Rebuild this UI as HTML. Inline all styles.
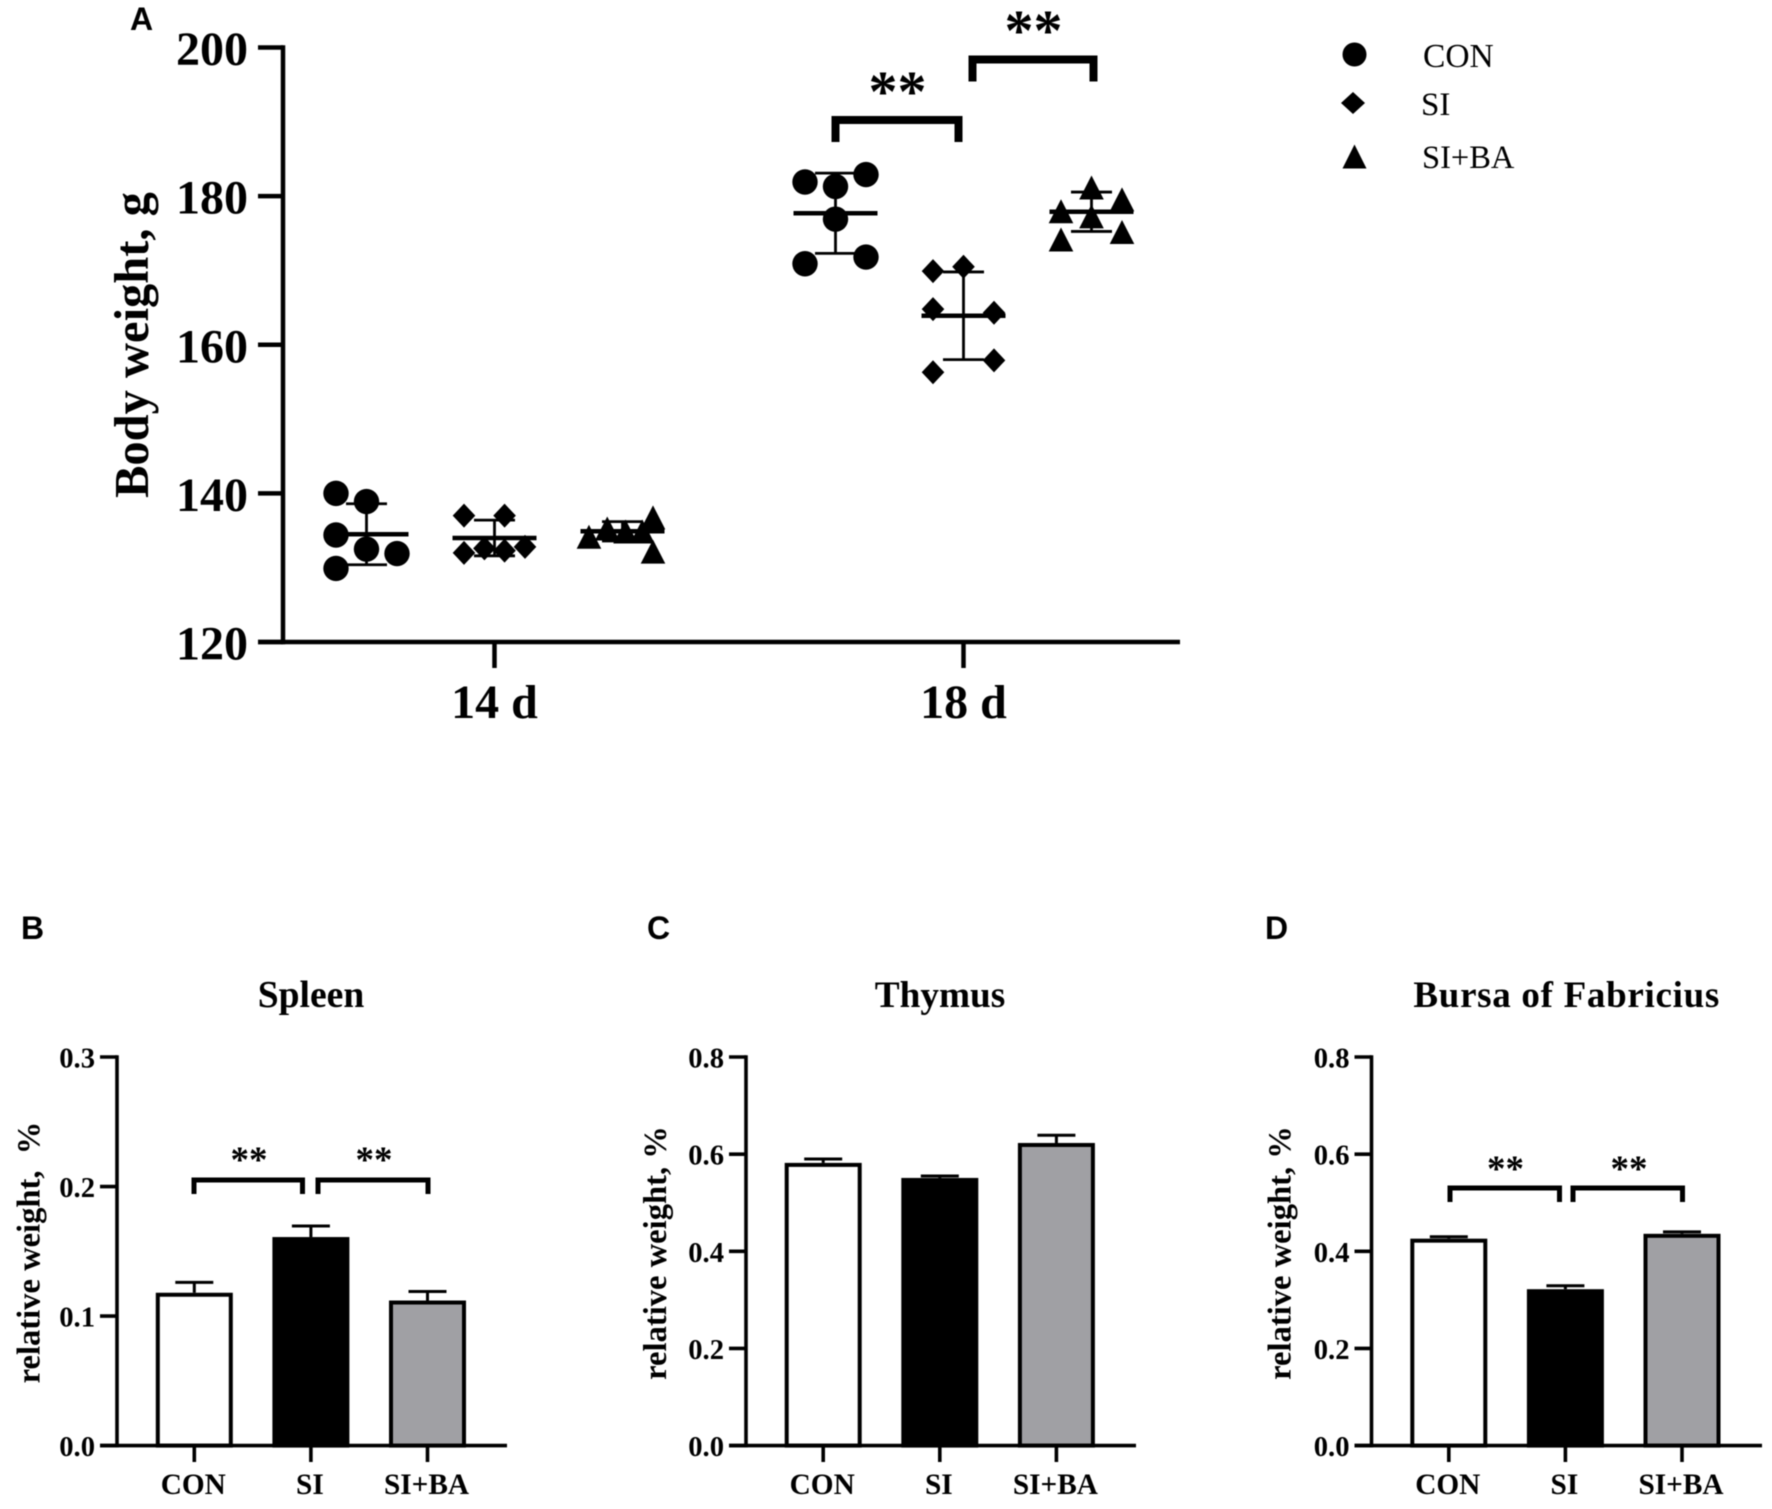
<!DOCTYPE html>
<html lang="en">
<head>
<meta charset="utf-8">
<title>Body weight and relative organ weight</title>
<style>
  html, body { margin: 0; padding: 0; background: #fff; }
  svg { display: block; filter: blur(0.6px); }
  text { font-family: "Liberation Serif", serif; fill: #000; }
  .bold { font-weight: 700; }
  .letter { font-family: "Liberation Sans", sans-serif; font-weight: 700; font-size: 32px; }
  .bracket { fill: none; stroke: #000; }
</style>
</head>
<body>
<svg id="figure" xmlns="http://www.w3.org/2000/svg" width="1772" height="1509" viewBox="0 0 1772 1509">
  <rect x="0" y="0" width="1772" height="1509" fill="#fff"/>

  <text class="letter" x="130" y="30">A</text>
  <text class="letter" x="21" y="939">B</text>
  <text class="letter" x="647" y="939">C</text>
  <text class="letter" x="1265" y="939">D</text>

  <g>
    <path class="bracket" stroke-width="8" d="M835.5 142V120H958.5V142"/>
    <path class="bracket" stroke-width="8" d="M972.5 81.5V59.5H1093.5V81.5"/>
    <text class="bold" x="897.5" y="111" font-size="58" text-anchor="middle">**</text>
    <text class="bold" x="1033.5" y="50" font-size="58" text-anchor="middle">**</text>
  </g>

  <g>
    <circle cx="1354.5" cy="54.5" r="12"/>
    <polygon points="1353,92 1365,103 1353,114 1341,103"/>
    <polygon points="1354.5,144.5 1366.5,168.5 1342.5,168.5"/>
    <text x="1423" y="67" font-size="33.5">CON</text>
    <text x="1421" y="115" font-size="33">SI</text>
    <text x="1422" y="168" font-size="32.5">SI+BA</text>
  </g>

  <g>
    <path class="bracket" stroke-width="5" d="M194 1194V1180H302.5V1194"/>
    <path class="bracket" stroke-width="5" d="M318 1194V1180H428V1194"/>
    <text class="bold" x="249" y="1172" font-size="37" text-anchor="middle">**</text>
    <text class="bold" x="374" y="1172" font-size="37" text-anchor="middle">**</text>
  </g>
  <g>
    <path class="bracket" stroke-width="5" d="M1450 1202V1188H1559.5V1202"/>
    <path class="bracket" stroke-width="5" d="M1573 1202V1188H1682.5V1202"/>
    <text class="bold" x="1505.5" y="1181" font-size="37" text-anchor="middle">**</text>
    <text class="bold" x="1629" y="1181" font-size="37" text-anchor="middle">**</text>
  </g>
</svg>

<script>
// ---- Panel A data ----
const weightDays = ['14 d', '18 d'];
const weightTicks = [120, 140, 160, 180, 200];
const con14 = [140.0, 138.9, 134.4, 132.5, 131.9, 129.9];
const si14 = [137.0, 137.0, 132.0, 132.6, 132.3, 132.8];
const siba14 = [134.1, 135.2, 134.8, 134.8, 136.7, 132.1];
const con18 = [181.9, 182.9, 181.3, 176.9, 170.9, 171.8];
const si18 = [169.9, 170.5, 164.8, 164.3, 157.9, 156.3];
const siba18 = [181.1, 179.5, 177.9, 177.2, 175.1, 174.1];
// swarm column of every point, in units of one swarm column
const con14Columns = [-1, 0, -1, 0, 1, -1];
const si14Columns = [-1, 0.33, -1, -0.33, 0.33, 1];
const siba14Columns = [-1.1, -0.5, 0.1, 0.65, 1, 1];
const con18Columns = [-1, 1, 0, 0, -1, 1];
const si18Columns = [-1, 0, -1, 1, 1, -1];
const siba18Columns = [0, 1, -1, 0, 1, -1];
const weightMeans14 = [134.5, 134.0, 134.9];
const weightMeans18 = [177.7, 163.9, 177.9];
const weightSD14 = [4.1, 2.4, 1.3];
const weightSD18 = [5.4, 5.9, 2.65];

// ---- Panels B-D data ----
const organGroups = ['CON', 'SI', 'SI+BA'];
const spleenTicks = [0.0, 0.1, 0.2, 0.3];
const thymusTicks = [0.0, 0.2, 0.4, 0.6, 0.8];
const bursaTicks = [0.0, 0.2, 0.4, 0.6, 0.8];
const spleenValues = [0.118, 0.161, 0.112];
const spleenErrors = [0.008, 0.0085, 0.007];
const thymusValues = [0.582, 0.551, 0.623];
const thymusErrors = [0.008, 0.004, 0.016];
const bursaValues = [0.426, 0.322, 0.436];
const bursaErrors = [0.004, 0.007, 0.004];

const svg = document.getElementById('figure');
const NS = 'http://www.w3.org/2000/svg';

function make(tag, attrs, parent, content) {
  const el = document.createElementNS(NS, tag);
  for (const k in attrs) el.setAttribute(k, attrs[k]);
  if (content !== undefined) el.textContent = content;
  (parent || svg).appendChild(el);
  return el;
}
function slug(s) {
  return String(s).toLowerCase().replace(/[^a-z0-9.]+/g, '-');
}
function line(parent, x1, y1, x2, y2, w, name) {
  const el = make('line', { x1: x1, y1: y1, x2: x2, y2: y2, stroke: '#000', 'stroke-width': w }, parent);
  
  
  return el;
}
function linearScale(d0, d1, r0, r1) {
  return function (v) { return r0 + (v - d0) * (r1 - r0) / (d1 - d0); };
}

// ---- Panel A ----
const weightY = linearScale(120, 200, 642, 47.5);
const dayX = function (i) { return 494.5 + i * 469; };
const groupOffset = function (g) { return (g - 1) * 128; };
const COLUMN_WIDTH = 30.5;

const panelA = make('g', {});



function drawMarker(parent, shape, cx, cy, name) {
  let el;
  if (shape === 'circle') {
    el = make('circle', { cx: cx, cy: cy, r: 12.7 }, parent);
  } else if (shape === 'diamond') {
    el = make('polygon', { points: [cx, cy - 12, cx + 11.3, cy, cx, cy + 12, cx - 11.3, cy].join(' ') }, parent);
  } else {
    el = make('polygon', { points: [cx, cy - 12.5, cx + 12.3, cy + 11.5, cx - 12.3, cy + 11.5].join(' ') }, parent);
  }
  
  
  return el;
}

function drawGroup(dayIndex, groupIndex, values, columns, mean, sd, shape) {
  const cx = dayX(dayIndex) + groupOffset(groupIndex);
  const groupName = slug(organGroups[groupIndex]) + '-' + slug(weightDays[dayIndex]);
  const g = make('g', {}, panelA);
  
  
  values.forEach(function (v, i) {
    drawMarker(g, shape, cx + columns[i] * COLUMN_WIDTH, weightY(v), 'point-' + groupName);
  });
  line(g, cx - 42, weightY(mean), cx + 42, weightY(mean), 4.5, 'mean-line-' + groupName);
  line(g, cx, weightY(mean + sd), cx, weightY(mean - sd), 2.8, 'sd-whisker-' + groupName);
  line(g, cx - 20.5, weightY(mean + sd), cx + 20.5, weightY(mean + sd), 2.8, 'sd-cap-upper-' + groupName);
  line(g, cx - 20.5, weightY(mean - sd), cx + 20.5, weightY(mean - sd), 2.8, 'sd-cap-lower-' + groupName);
}

drawGroup(0, 0, con14, con14Columns, weightMeans14[0], weightSD14[0], 'circle');
drawGroup(0, 1, si14, si14Columns, weightMeans14[1], weightSD14[1], 'diamond');
drawGroup(0, 2, siba14, siba14Columns, weightMeans14[2], weightSD14[2], 'triangle');
drawGroup(1, 0, con18, con18Columns, weightMeans18[0], weightSD18[0], 'circle');
drawGroup(1, 1, si18, si18Columns, weightMeans18[1], weightSD18[1], 'diamond');
drawGroup(1, 2, siba18, siba18Columns, weightMeans18[2], weightSD18[2], 'triangle');

line(panelA, 283, weightY(200) - 2.2, 283, weightY(120) + 2.2, 4.5, 'y-axis-line');
line(panelA, 258, weightY(120), 1180, weightY(120), 4.5, 'x-axis-line');
weightTicks.forEach(function (t) {
  line(panelA, 258, weightY(t), 283, weightY(t), 4.5, 'y-tick-' + t);
  const label = make('text', { x: 248, y: weightY(t) + 17.5, 'font-size': 48, 'text-anchor': 'end', class: 'bold' }, panelA, t);
  
  
});
weightDays.forEach(function (d, i) {
  line(panelA, dayX(i), 642, dayX(i), 668, 4.5, 'x-tick-' + slug(d));
  const label = make('text', { x: dayX(i), y: 718, 'font-size': 48, 'text-anchor': 'middle', class: 'bold' }, panelA, d);
  
  
});
const weightTitle = make('text', {
  transform: 'translate(148 345) rotate(-90)', 'font-size': 48.5, 'text-anchor': 'middle', class: 'bold'
}, panelA, 'Body weight, g');



// ---- Panels B-D ----
const barFills = ['#fff', '#000', '#a0a0a4'];

function drawBarPanel(opts) {
  const g = make('g', {});
  
  
  const top = opts.ticks[opts.ticks.length - 1];
  const y = linearScale(0, top, 1445.6, 1057);
  const x = function (i) { return opts.firstBar + i * 116.6; };

  opts.values.forEach(function (v, i) {
    const groupName = opts.key + '-' + slug(organGroups[i]);
    const cx = x(i);
    line(g, cx, y(v), cx, y(v + opts.errors[i]), 3, 'error-whisker-' + groupName);
    line(g, cx - 19, y(v + opts.errors[i]), cx + 19, y(v + opts.errors[i]), 3, 'error-cap-' + groupName);
    const bar = make('rect', {
      x: cx - 36.5, y: y(v) + 2, width: 73, height: 1445.6 - y(v) - 2,
      fill: barFills[i], stroke: '#000', 'stroke-width': 4
    }, g);
    
    

    line(g, cx, 1445.6, cx, 1462, 3.6, 'x-tick-' + groupName);
    const label = make('text', { x: cx - 1, y: 1494, 'font-size': 29.3, 'text-anchor': 'middle', class: 'bold' }, g, organGroups[i]);
    
    
  });

  line(g, opts.axisX, 1055.2, opts.axisX, 1447.4, 3.6, opts.key + '-y-axis-line');
  line(g, opts.axisX - 17, 1445.6, opts.axisEnd, 1445.6, 3.6, opts.key + '-x-axis-line');
  opts.ticks.forEach(function (t) {
    line(g, opts.axisX - 17, y(t), opts.axisX, y(t), 3.6, opts.key + '-y-tick-' + t.toFixed(1));
    const label = make('text', { x: opts.axisX - 22, y: y(t) + 10.5, 'font-size': 28.6, 'text-anchor': 'end', class: 'bold' }, g, t.toFixed(1));
    
    
  });

  const title = make('text', { x: opts.titleX, y: 1007, 'font-size': opts.titleSize, 'text-anchor': 'middle', 'letter-spacing': opts.titleSpacing, class: 'bold' }, g, opts.title);
  
  

  const yTitle = make('text', {
    transform: 'translate(' + opts.yTitleX + ' ' + opts.yTitleY + ') rotate(-90)',
    'font-size': 32.6, 'text-anchor': 'middle', class: 'bold', 'xml:space': 'preserve'
  }, g, opts.yTitle);
  yTitle.setAttribute('style', 'white-space:pre');
  
  
}

drawBarPanel({
  key: 'spleen', title: 'Spleen', titleX: 311, titleSpacing: 0, titleSize: 37.6,
  ticks: spleenTicks, values: spleenValues, errors: spleenErrors,
  axisX: 117, axisEnd: 507, firstBar: 194.3,
  yTitle: 'relative weight,  %', yTitleX: 39.5, yTitleY: 1252.5
});
drawBarPanel({
  key: 'thymus', title: 'Thymus', titleX: 940, titleSpacing: 0, titleSize: 37.3,
  ticks: thymusTicks, values: thymusValues, errors: thymusErrors,
  axisX: 746, axisEnd: 1136, firstBar: 823.2,
  yTitle: 'relative weight, %', yTitleX: 666, yTitleY: 1253
});
drawBarPanel({
  key: 'bursa', title: 'Bursa of Fabricius', titleX: 1566.7, titleSpacing: 0.7, titleSize: 37,
  ticks: bursaTicks, values: bursaValues, errors: bursaErrors,
  axisX: 1371.5, axisEnd: 1762, firstBar: 1448.8,
  yTitle: 'relative weight, %', yTitleX: 1290.5, yTitleY: 1253
});
</script>
</body>
</html>
